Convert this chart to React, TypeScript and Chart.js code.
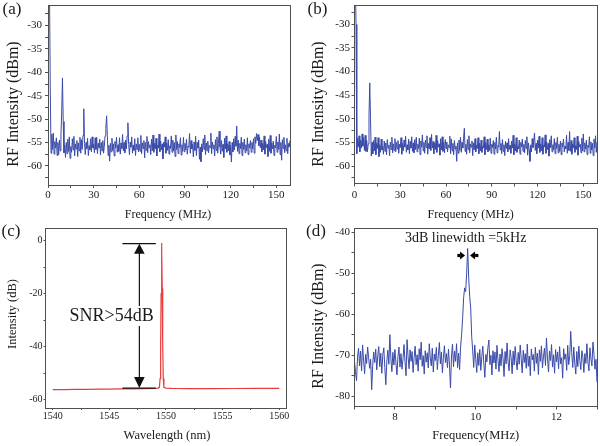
import React, { useEffect, useRef } from 'react';
import { Chart, registerables } from 'chart.js';

Chart.register(...registerables);

const SERIF = '"Liberation Serif", "Times New Roman", Times, serif';
const INK = '#1a1a1a';
const FRAME = '#505050';
const BLUE = '#3a4aa8';
const RED = '#ea3b3b';

// ---------- (a) RF spectrum, 0.5 MHz sampling ----------
const A_STEP_MHZ = 0.5;
const A_RF_DBM = [
  -18, -19, -23, -44, -57.3, -53.2, -56.5, -53.0, -57.5, -54.8, -56.2, -54.0, -57.8, -55.0, -57.6, -54.5, -56.8, -53.6, -48.5, -41.2,
  -50.5, -57.2, -55.6, -58.2, -55.0, -57.4, -54.3, -56.9, -53.8, -58.4, -55.9, -57.1, -54.2, -56.6, -53.7, -57.9, -55.3, -56.4, -54.6, -58.0,
  -55.1, -56.8, -53.9, -57.3, -54.4, -56.5, -53.5, -47.8, -55.2, -57.6, -55.0, -56.3, -54.1, -57.8, -55.7, -56.6, -54.2, -57.0, -53.8, -56.2,
  -55.4, -57.2, -54.0, -56.5, -53.9, -57.4, -55.2, -56.1, -54.3, -57.7, -55.0, -56.8, -54.6, -57.3, -55.8, -53.6, -52.0, -49.3, -53.5, -57.8,
  -55.6, -59.0, -55.2, -57.0, -54.1, -56.7, -55.3, -57.9, -54.8, -56.2, -53.9, -57.1, -55.5, -56.9, -54.0, -57.5, -55.1, -56.3, -53.3, -56.8,
  -55.0, -57.2, -54.5, -56.4, -53.6, -50.8, -55.4, -57.6, -54.9, -56.0, -53.8, -57.3, -55.6, -56.7, -54.2, -57.8, -55.3, -56.5, -54.0, -57.0,
  -55.4, -56.9, -53.5, -57.4, -55.1, -56.3, -54.6, -58.3, -55.0, -56.7, -53.7, -57.2, -54.8, -56.1, -55.5, -57.6, -54.3, -56.8, -53.4, -57.1,
  -55.2, -56.4, -54.1, -57.9, -55.6, -56.2, -53.2, -57.0, -54.7, -56.6, -55.3, -58.5, -54.9, -56.0, -53.8, -57.3, -55.1, -56.7, -54.4, -57.5,
  -55.7, -56.3, -53.6, -57.1, -54.5, -56.8, -55.0, -58.0, -53.4, -56.5, -54.8, -57.4, -55.3, -56.1, -54.0, -57.7, -55.5, -56.9, -53.9, -57.0,
  -55.2, -56.6, -54.3, -57.5, -55.8, -56.0, -53.1, -57.3, -54.6, -56.4, -55.4, -58.1, -54.9, -56.7, -53.7, -57.8, -55.0, -56.2, -54.5, -58.6,
  -56.0, -59.1, -55.3, -57.0, -54.2, -56.5, -53.4, -57.6, -55.1, -56.8, -54.7, -57.2, -55.6, -56.1, -53.0, -57.4, -54.9, -56.3, -55.5, -57.9,
  -54.4, -56.7, -53.8, -57.3, -55.2, -52.6, -56.0, -57.5, -54.6, -56.9, -55.4, -58.2, -54.1, -56.4, -53.6, -57.1, -55.3, -56.8, -54.8, -57.7,
  -55.6, -59.2, -55.0, -57.0, -54.2, -56.6, -53.7, -55.8, -51.5, -56.9, -54.5, -57.4, -55.2, -56.3, -53.9, -57.8, -55.0, -56.5, -54.3, -57.2,
  -55.5, -56.8, -54.0, -57.6, -55.3, -56.2, -54.6, -57.1, -55.0, -56.4, -54.2, -57.3, -53.8, -55.2, -53.1, -54.6, -53.3, -55.7, -53.9, -56.1,
  -54.5, -57.0, -55.2, -56.6, -53.6, -57.5, -54.8, -56.1, -55.4, -58.0, -54.3, -56.9, -53.5, -57.3, -55.1, -56.4, -54.7, -57.8, -55.6, -56.2,
  -53.7, -57.1, -54.9, -56.5, -53.2, -57.6, -55.0, -58.8, -54.4, -56.3, -53.9, -57.2, -55.5, -56.8, -54.1, -57.4, -55.2, -56.0, -54.6, -57.0,
  -55.5,
];

// ---------- (b) RF spectrum, 0.5 MHz sampling ----------
const B_STEP_MHZ = 0.5;
const B_RF_DBM = [
  -18, -20, -30, -57.4, -54.1, -56.0, -53.6, -57.0, -54.5, -56.2, -53.2, -55.8, -54.0, -56.7, -53.5, -56.9, -54.6, -57.0, -55.3, -49.5,
  -42.4, -50.0, -57.9, -55.0, -57.4, -54.6, -56.8, -53.9, -57.6, -55.2, -56.3, -54.0, -58.0, -55.5, -57.1, -54.3, -56.6, -55.8, -57.5, -54.7,
  -56.9, -55.1, -57.6, -54.4, -56.2, -55.6, -57.8, -54.9, -56.5, -53.9, -57.2, -55.3, -56.7, -54.2, -57.0, -55.0, -56.4, -54.6, -57.3, -55.4,
  -56.1, -54.0, -57.5, -55.2, -56.8, -54.5, -56.0, -53.7, -57.1, -55.5, -56.6, -54.3, -57.4, -54.8, -56.2, -53.8, -56.9, -55.1, -57.2, -54.4,
  -56.5, -53.9, -57.0, -55.4, -56.3, -54.1, -57.6, -54.7, -56.0, -53.4, -56.8, -55.0, -57.3, -54.5, -56.1, -53.6, -57.5, -55.2, -56.4, -54.0,
  -56.7, -53.3, -56.2, -54.8, -57.4, -55.1, -56.5, -53.5, -57.1, -54.6, -56.0, -55.3, -57.7, -54.2, -56.6, -53.8, -56.9, -55.0, -57.2, -54.4,
  -56.3, -54.9, -57.0, -55.5, -56.1, -53.7, -57.4, -54.3, -56.8, -55.2, -57.6, -54.6, -56.4, -55.8, -59.0, -55.1, -57.3, -54.5, -56.7, -53.9,
  -57.1, -55.0, -56.2, -54.1, -52.0, -56.9, -55.4, -57.5, -54.4, -56.5, -53.6, -57.2, -55.3, -56.0, -54.7, -57.8, -55.1, -56.6, -54.2, -57.0,
  -55.6, -56.3, -54.0, -57.4, -55.2, -56.8, -54.5, -57.1, -55.9, -56.2, -53.8, -57.6, -55.0, -56.5, -54.3, -57.0, -55.5, -56.7, -54.1, -57.3,
  -55.4, -56.1, -54.6, -57.5, -55.0, -56.4, -53.9, -57.2, -55.7, -56.0, -52.7, -56.6, -55.2, -57.4, -54.4, -56.9, -55.5, -57.8, -54.8, -56.3,
  -55.1, -57.0, -54.2, -56.5, -55.6, -57.3, -54.7, -56.2, -53.5, -57.6, -55.3, -56.8, -54.0, -57.1, -55.8, -56.4, -54.5, -57.5, -55.0, -56.0,
  -54.3, -56.9, -55.4, -57.2, -54.6, -56.3, -53.8, -57.7, -55.1, -56.6, -59.0, -55.5, -57.0, -54.2, -56.1, -54.8, -53.0, -56.7, -55.2, -57.4,
  -54.5, -56.2, -53.7, -57.1, -55.3, -56.8, -54.0, -57.5, -55.6, -56.0, -53.4, -57.3, -54.9, -56.5, -55.2, -57.9, -54.4, -56.1, -53.6, -57.0,
  -55.5, -56.6, -54.2, -57.4, -55.0, -56.3, -53.9, -57.2, -55.4, -56.9, -54.7, -57.6, -55.1, -56.0, -54.3, -57.0, -55.8, -56.4, -53.5, -57.3,
  -55.0, -56.7, -52.7, -56.9, -54.6, -57.5, -55.3, -56.2, -54.0, -57.1, -55.7, -56.5, -53.7, -57.7, -54.8, -56.0, -55.4, -57.2, -54.1, -56.8,
  -53.2, -57.0, -55.1, -56.4, -54.5, -57.6, -55.6, -56.1, -53.8, -57.3, -54.9, -56.6, -55.2, -57.8, -54.3, -56.2, -53.6, -57.1, -55.0, -56.5,
  -55.3,
];

// ---------- (c) optical spectrum ----------
const C_WAVELENGTH_NM = [
  1540, 1541, 1542, 1543, 1544, 1545, 1546, 1547, 1548, 1549,
  1549.3, 1549.42, 1549.48, 1549.53, 1549.57, 1549.6, 1549.62, 1549.64, 1549.67, 1549.71, 1549.76, 1549.82,
  1550, 1550.5, 1551, 1552, 1554, 1556, 1558, 1560,
];
const C_INTENSITY_DB = [
  -56.2, -56.15, -56.1, -56.05, -56.0, -55.95, -55.9, -55.85, -55.8, -55.7,
  -55.6, -55.3, -52, -40, -20, -6, -0.9, -4, -18, -38, -52, -55.3,
  -55.6, -55.7, -55.75, -55.8, -55.8, -55.75, -55.7, -55.7,
];

// ---------- (d) RF linewidth, 25 kHz sampling from 7 MHz ----------
const D_START_MHZ = 7;
const D_STEP_MHZ = 0.025;
const D_RF_DBM = [
  -71.5, -74.0, -76.2, -70.5, -68.3, -72.6, -69.0, -73.8, -67.5, -71.2, -74.5, -69.8, -72.0, -68.0, -70.6, -73.2, -71.0, -78.4, -72.5, -69.2,
  -71.8, -68.5, -73.6, -70.2, -67.9, -72.8, -69.5, -74.4, -70.0, -68.2, -73.0, -77.2, -71.4, -68.8, -72.2, -65.0, -70.8, -74.0, -69.3, -72.4,
  -68.6, -71.9, -74.8, -70.4, -68.0, -72.9, -69.6, -73.4, -70.9, -67.4, -71.6, -75.0, -66.2, -70.3, -73.3, -68.7, -71.5, -69.1, -74.2, -70.6,
  -67.8, -72.3, -69.9, -73.9, -68.4, -71.1, -66.8, -72.7, -70.1, -74.6, -68.9, -71.7, -69.4, -73.1, -67.2, -70.7, -72.6, -68.3, -74.1, -69.7,
  -71.3, -68.1, -73.5, -70.0, -66.9, -72.1, -69.2, -74.3, -70.5, -67.7, -71.8, -69.6, -73.0, -68.5, -72.4, -78.0, -70.2, -67.3, -72.8, -69.0,
  -71.5, -67.2, -73.0, -69.5, -73.5, -68.0, -65.0, -61.0, -56.0, -53.6, -54.5, -50.0, -44.0, -51.0, -55.7, -58.5, -65.5, -69.0, -73.0, -67.5,
  -71.0, -74.2, -69.4, -72.5, -68.6, -73.7, -70.3, -67.8, -72.0, -75.4, -69.8, -71.6, -68.2, -66.3, -72.3, -70.0, -74.8, -68.9, -71.9, -69.2,
  -73.4, -67.6, -71.2, -74.0, -69.7, -72.6, -68.4, -70.8, -75.2, -69.1, -72.1, -67.0, -71.7, -73.8, -68.7, -70.5, -74.5, -69.0, -72.4, -67.9,
  -71.4, -73.6, -69.3, -72.2, -67.5, -70.9, -74.3, -68.8, -71.8, -69.6, -73.2, -67.3, -72.7, -70.2, -75.0, -68.5, -71.1, -69.8, -73.9, -68.1,
  -72.0, -69.5, -74.7, -68.7, -71.5, -67.7, -73.1, -70.4, -68.3, -72.5, -65.8, -70.7, -74.1, -69.0, -71.3, -67.4, -72.9, -69.9, -74.4, -68.6,
  -71.6, -69.2, -73.3, -67.9, -72.1, -70.6, -75.6, -68.4, -71.0, -69.7, -73.7, -67.6, -72.3, -70.1, -64.2, -69.4, -73.0, -68.0, -71.9, -74.6,
  -69.1, -72.8, -67.8, -71.3, -73.5, -68.9, -70.4, -74.2, -69.6, -72.0, -67.2, -71.7, -73.8, -68.2, -70.9, -72.6, -66.8, -69.8, -73.4, -71.0,
  -76.5,
];

// ---------- tick values ----------
const AB_X_TICKS = [0, 15, 30, 45, 60, 75, 90, 105, 120, 135, 150];
const AB_X_LABELS = [0, 30, 60, 90, 120, 150];
const AB_Y_TICKS = [-62.5, -60, -57.5, -55, -52.5, -50, -47.5, -45, -42.5, -40, -37.5, -35, -32.5, -30, -27.5];
const AB_Y_LABELS = [-60, -55, -50, -45, -40, -35, -30];
const C_X_TICKS = [1540, 1542.5, 1545, 1547.5, 1550, 1552.5, 1555, 1557.5, 1560];
const C_X_LABELS = [1540, 1545, 1550, 1555, 1560];
const C_Y_TICKS = [-60, -50, -40, -30, -20, -10, 0];
const C_Y_LABELS = [-60, -40, -20, 0];
const D_X_TICKS = [7, 8, 9, 10, 11, 12, 13];
const D_X_LABELS = [8, 10, 12];
const D_Y_TICKS = [-80, -75, -70, -65, -60, -55, -50, -45, -40];
const D_Y_LABELS = [-80, -70, -60, -50, -40];

// ---------- annotations (data coordinates) ----------
const C_SNR_X = 1547.65;
const C_SNR_TOP = -1.1;
const C_SNR_BOTTOM = -55.6;
const C_BAR_FROM = 1546.15;
const C_BAR_TO = 1549.1;
const C_SNR_TEXT = 'SNR>54dB';
const C_SNR_TEXT_AT = { x: 1545.2, y: -28.4 };
const D_LW_TEXT = '3dB linewidth =5kHz';
const D_LW_TEXT_AT = { x: 9.75, y: -41.6 };
const D_ARROW_Y = -45.7;
const D_ARROW_L = { tail: 9.545, tip: 9.735 };
const D_ARROW_R = { tail: 10.065, tip: 9.86 };

type TextItem = { text: string; x: number; y: number; size: number; rotate?: boolean };

type PanelSpec = {
  xs: number[];
  ys: number[];
  color: string;
  lineWidth: number;
  xMin: number; xMax: number; yMin: number; yMax: number;
  xTicks: number[]; xLabels: number[]; yTicks: number[]; yLabels: number[];
  yWidth: number; xHeight: number; padTop: number; padRight: number;
  tickSize: number; tickLen: number; xTickPad: number; yTickPad: number;
  texts: TextItem[];
  extra?: (chart: any) => void;
};

function drawText(ctx: CanvasRenderingContext2D, t: TextItem) {
  ctx.save();
  ctx.font = `${t.size}px ${SERIF}`;
  ctx.fillStyle = INK;
  ctx.textAlign = 'center';
  ctx.textBaseline = 'middle';
  ctx.translate(t.x, t.y);
  if (t.rotate) ctx.rotate(-Math.PI / 2);
  ctx.fillText(t.text, 0, 0);
  ctx.restore();
}

function buildConfig(p: PanelSpec): any {
  const points = p.xs.map((x, i) => ({ x, y: p.ys[i] }));
  const tickFont = { family: SERIF, size: p.tickSize };
  const zeroPad = (s: any) => {
    s.paddingTop = 0; s.paddingBottom = 0; s.paddingLeft = 0; s.paddingRight = 0;
  };
  const decor = {
    id: 'decor',
    afterDraw(chart: any) {
      const { ctx, chartArea: ca } = chart;
      ctx.save();
      ctx.strokeStyle = FRAME;
      ctx.lineWidth = 1;
      const l = Math.floor(ca.left) + 0.5;
      const t = Math.floor(ca.top) + 0.5;
      const r = Math.floor(ca.right) + 0.5;
      const b = Math.floor(ca.bottom) + 0.5;
      ctx.strokeRect(l, t, r - l, b - t);
      ctx.restore();
      p.texts.forEach((tx) => drawText(ctx, tx));
      if (p.extra) p.extra(chart);
    },
  };
  return {
    type: 'line',
    data: {
      datasets: [
        {
          data: points,
          borderColor: p.color,
          borderWidth: p.lineWidth,
          pointRadius: 0,
          tension: 0,
          fill: false,
        },
      ],
    },
    options: {
      animation: false,
      responsive: false,
      maintainAspectRatio: false,
      events: [],
      layout: { padding: { top: p.padTop, right: p.padRight, left: 0, bottom: 0 } },
      plugins: { legend: { display: false }, tooltip: { enabled: false }, title: { display: false } },
      scales: {
        x: {
          type: 'linear',
          min: p.xMin,
          max: p.xMax,
          afterBuildTicks: (s: any) => { s.ticks = p.xTicks.map((v) => ({ value: v })); },
          afterFit: (s: any) => { s.height = p.xHeight; zeroPad(s); },
          grid: { drawOnChartArea: false, drawTicks: true, tickLength: p.tickLen, color: FRAME, lineWidth: 1 },
          border: { display: false },
          ticks: {
            autoSkip: false, maxRotation: 0, minRotation: 0, padding: p.xTickPad, color: INK, font: tickFont,
            callback: (v: number) => (p.xLabels.includes(v) ? String(v) : ''),
          },
        },
        y: {
          type: 'linear',
          min: p.yMin,
          max: p.yMax,
          afterBuildTicks: (s: any) => { s.ticks = p.yTicks.map((v) => ({ value: v })); },
          afterFit: (s: any) => { s.width = p.yWidth; zeroPad(s); },
          grid: { drawOnChartArea: false, drawTicks: true, tickLength: p.tickLen, color: FRAME, lineWidth: 1 },
          border: { display: false },
          ticks: {
            autoSkip: false, padding: p.yTickPad, color: INK, font: tickFont,
            callback: (v: number) => (p.yLabels.includes(v) ? String(v) : ''),
          },
        },
      },
    },
    plugins: [decor],
  };
}

function drawSnr(chart: any) {
  const { ctx } = chart;
  const xs = chart.scales.x;
  const ys = chart.scales.y;
  const px = xs.getPixelForValue(C_SNR_X);
  const pt = ys.getPixelForValue(C_SNR_TOP);
  const pb = ys.getPixelForValue(C_SNR_BOTTOM);
  const b0 = xs.getPixelForValue(C_BAR_FROM);
  const b1 = xs.getPixelForValue(C_BAR_TO);
  ctx.save();
  ctx.strokeStyle = '#111';
  ctx.fillStyle = '#111';
  ctx.lineWidth = 1.2;
  ctx.beginPath();
  ctx.moveTo(px, pt + 8); ctx.lineTo(px, pb - 8);
  ctx.moveTo(b0, pt); ctx.lineTo(b1, pt);
  ctx.moveTo(b0, pb); ctx.lineTo(b1, pb);
  ctx.stroke();
  ctx.beginPath();
  ctx.moveTo(px, pt); ctx.lineTo(px - 5.3, pt + 10); ctx.lineTo(px + 5.3, pt + 10); ctx.closePath();
  ctx.fill();
  ctx.beginPath();
  ctx.moveTo(px, pb); ctx.lineTo(px - 5.3, pb - 11); ctx.lineTo(px + 5.3, pb - 11); ctx.closePath();
  ctx.fill();
  const tx = xs.getPixelForValue(C_SNR_TEXT_AT.x);
  const ty = ys.getPixelForValue(C_SNR_TEXT_AT.y);
  ctx.font = `18px ${SERIF}`;
  const w = ctx.measureText(C_SNR_TEXT).width;
  ctx.fillStyle = '#ffffff';
  ctx.fillRect(tx - w / 2 - 1, ty - 10, w + 2, 20);
  ctx.restore();
  drawText(ctx, { text: C_SNR_TEXT, x: tx, y: ty, size: 18 });
}

function drawArrow(ctx: CanvasRenderingContext2D, tail: number, tip: number, y: number) {
  const dir = tip > tail ? 1 : -1;
  const headLen = 5;
  const base = tip - dir * headLen;
  ctx.fillRect(Math.min(tail, base), y - 1.6, Math.abs(base - tail), 3.2);
  ctx.beginPath();
  ctx.moveTo(tip, y);
  ctx.lineTo(base, y - 4);
  ctx.lineTo(base, y + 4);
  ctx.closePath();
  ctx.fill();
}

function drawLinewidth(chart: any) {
  const { ctx } = chart;
  const xs = chart.scales.x;
  const ys = chart.scales.y;
  const y = ys.getPixelForValue(D_ARROW_Y);
  ctx.save();
  ctx.fillStyle = '#000';
  drawArrow(ctx, xs.getPixelForValue(D_ARROW_L.tail), xs.getPixelForValue(D_ARROW_L.tip), y);
  drawArrow(ctx, xs.getPixelForValue(D_ARROW_R.tail), xs.getPixelForValue(D_ARROW_R.tip), y);
  ctx.restore();
  drawText(ctx, {
    text: D_LW_TEXT,
    x: xs.getPixelForValue(D_LW_TEXT_AT.x),
    y: ys.getPixelForValue(D_LW_TEXT_AT.y),
    size: 14,
  });
}

const PANEL_A: PanelSpec = {
  xs: A_RF_DBM.map((_, i) => i * A_STEP_MHZ),
  ys: A_RF_DBM,
  color: BLUE, lineWidth: 1,
  xMin: 0, xMax: 159, yMin: -64.1, yMax: -25.6,
  xTicks: AB_X_TICKS, xLabels: AB_X_LABELS, yTicks: AB_Y_TICKS, yLabels: AB_Y_LABELS,
  yWidth: 48, xHeight: 38, padTop: 5, padRight: 10,
  tickSize: 11, tickLen: 3, xTickPad: 1, yTickPad: 3,
  texts: [
    { text: '(a)', x: 12, y: 9.5, size: 17 },
    { text: 'RF Intensity (dBm)', x: 14, y: 104, size: 16, rotate: true },
    { text: 'Frequency (MHz)', x: 168, y: 215, size: 12 },
  ],
};

const PANEL_B: PanelSpec = {
  xs: B_RF_DBM.map((_, i) => i * B_STEP_MHZ),
  ys: B_RF_DBM,
  color: BLUE, lineWidth: 1,
  xMin: 0, xMax: 159.3, yMin: -63.7, yMax: -25.9,
  xTicks: AB_X_TICKS, xLabels: AB_X_LABELS, yTicks: AB_Y_TICKS, yLabels: AB_Y_LABELS,
  yWidth: 54.5, xHeight: 39.5, padTop: 5, padRight: 2.5,
  tickSize: 11, tickLen: 3, xTickPad: 2, yTickPad: 1.5,
  texts: [
    { text: '(b)', x: 17.5, y: 9.5, size: 17 },
    { text: 'RF Intensity (dBm)', x: 19, y: 104, size: 16, rotate: true },
    { text: 'Frequency (MHz)', x: 170.7, y: 215, size: 12 },
  ],
};

const PANEL_C: PanelSpec = {
  xs: C_WAVELENGTH_NM,
  ys: C_INTENSITY_DB,
  color: RED, lineWidth: 1.2,
  xMin: 1539.36, xMax: 1560.6, yMin: -63.1, yMax: 4.8,
  xTicks: C_X_TICKS, xLabels: C_X_LABELS, yTicks: C_Y_TICKS, yLabels: C_Y_LABELS,
  yWidth: 45.5, xHeight: 38, padTop: 5, padRight: 14,
  tickSize: 10, tickLen: 2, xTickPad: 0, yTickPad: 1,
  texts: [
    { text: '(c)', x: 11, y: 8.5, size: 17 },
    { text: 'Intensity (dB)', x: 13, y: 91, size: 12.5, rotate: true },
    { text: 'Wavelength (nm)', x: 167, y: 213, size: 12.5 },
  ],
  extra: drawSnr,
};

const PANEL_D: PanelSpec = {
  xs: D_RF_DBM.map((_, i) => D_START_MHZ + i * D_STEP_MHZ),
  ys: D_RF_DBM,
  color: BLUE, lineWidth: 1,
  xMin: 7, xMax: 13, yMin: -82.5, yMax: -39,
  xTicks: D_X_TICKS, xLabels: D_X_LABELS, yTicks: D_Y_TICKS, yLabels: D_Y_LABELS,
  yWidth: 54.5, xHeight: 39.5, padTop: 5, padRight: 3,
  tickSize: 11, tickLen: 3, xTickPad: 1.5, yTickPad: 1.5,
  texts: [
    { text: '(d)', x: 16, y: 8.5, size: 17 },
    { text: 'RF Intensity (dBm)', x: 19, y: 103, size: 16, rotate: true },
    { text: 'Frequency(MHz)', x: 175.7, y: 213, size: 12.5 },
  ],
  extra: drawLinewidth,
};

function Panel({ left, top, spec }: { left: number; top: number; spec: PanelSpec }) {
  const ref = useRef<HTMLCanvasElement>(null);
  useEffect(() => {
    if (!ref.current) return;
    const chart = new Chart(ref.current, buildConfig(spec));
    return () => chart.destroy();
  }, [spec]);
  return (
    <canvas
      ref={ref}
      width={300}
      height={223}
      style={{ position: 'absolute', left, top, width: 300, height: 223 }}
    />
  );
}

export default function App() {
  return (
    <div style={{ position: 'fixed', left: 0, top: 0, width: 600, height: 446, background: '#ffffff', overflow: 'hidden' }}>
      <Panel left={0} top={0} spec={PANEL_A} />
      <Panel left={300} top={0} spec={PANEL_B} />
      <Panel left={0} top={223} spec={PANEL_C} />
      <Panel left={300} top={223} spec={PANEL_D} />
    </div>
  );
}
